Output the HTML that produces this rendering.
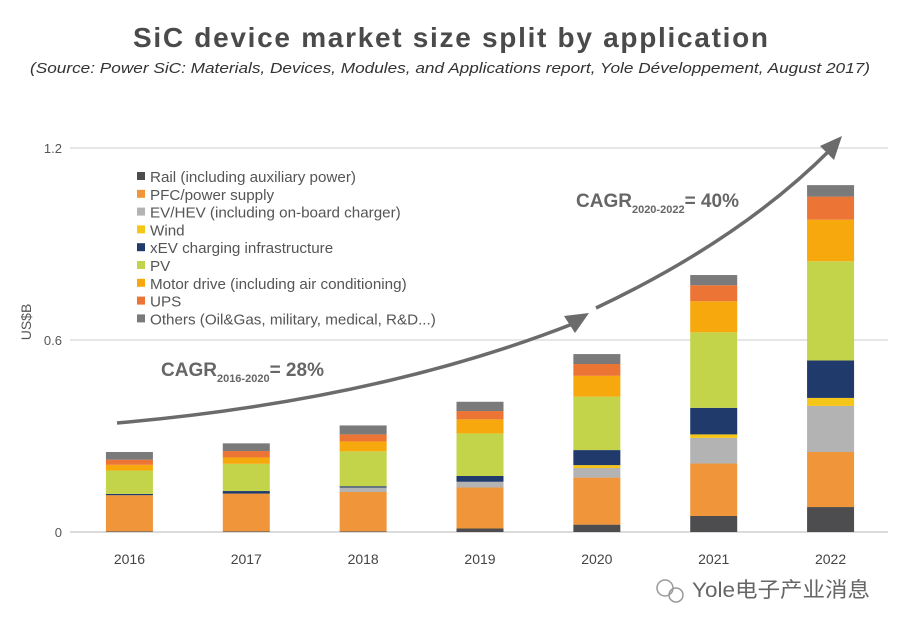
<!DOCTYPE html>
<html><head><meta charset="utf-8">
<style>
html,body{margin:0;padding:0;background:#fff;}
body{width:900px;height:630px;overflow:hidden;font-family:"Liberation Sans","Noto Sans CJK SC",sans-serif;}
</style></head>
<body>
<svg id="chart" width="900" height="630" viewBox="0 0 900 630" xmlns="http://www.w3.org/2000/svg">
<text x="133" y="47" textLength="635" lengthAdjust="spacing" font-family="Liberation Sans, sans-serif" font-weight="bold" font-size="28" fill="#4a4a4a">SiC device market size split by application</text>
<text x="30" y="73" textLength="840" lengthAdjust="spacingAndGlyphs" font-family="Liberation Sans, sans-serif" font-style="italic" font-size="15" fill="#333">(Source: Power SiC: Materials, Devices, Modules, and Applications report, Yole Développement, August 2017)</text>
<g id="grid"></g>
<g id="bars"></g>
<g id="axes"></g>
<text transform="translate(31,322) rotate(-90)" text-anchor="middle" font-size="14" fill="#555">US$B</text>
<g id="legend"></g>
<path d="M117,423 Q380,400 575,323" fill="none" stroke="#6b6b6b" stroke-width="3.5"/>
<polygon points="589,313 564,316 575,333" fill="#6b6b6b"/>
<path d="M596,308 Q740,240 830,150" fill="none" stroke="#6b6b6b" stroke-width="3.5"/>
<polygon points="842,136 820,146 834,160" fill="#6b6b6b"/>
<text x="161" y="376" font-weight="bold" font-size="19" fill="#666">CAGR<tspan font-size="11" dy="6">2016-2020</tspan><tspan dy="-6">= 28%</tspan></text>
<text x="576" y="207" font-weight="bold" font-size="19" fill="#666">CAGR<tspan font-size="11" dy="6">2020-2022</tspan><tspan dy="-6">= 40%</tspan></text>
<g>
<circle cx="665" cy="588" r="8" fill="none" stroke="#999" stroke-width="1.5"/>
<circle cx="676" cy="595" r="7" fill="none" stroke="#999" stroke-width="1.5"/>
<text x="692" y="597" textLength="178" lengthAdjust="spacingAndGlyphs" font-size="21" fill="#666" font-family="Liberation Sans, Noto Sans CJK SC, sans-serif">Yole电子产业消息</text>
</g>
</svg>
<script>
const years = ["2016","2017","2018","2019","2020","2021","2022"];
const seriesNames = ["Rail (including auxiliary power)","PFC/power supply","EV/HEV (including on-board charger)","Wind","xEV charging infrastructure","PV","Motor drive (including air conditioning)","UPS","Others (Oil&Gas, military, medical, R&D...)"];
const rail   = [0.002,0.002,0.002,0.011,0.023,0.050,0.078];
const pfc    = [0.113,0.118,0.123,0.128,0.147,0.164,0.172];
const evhev  = [0.000,0.000,0.014,0.018,0.030,0.080,0.144];
const wind   = [0.000,0.000,0.000,0.000,0.009,0.011,0.025];
const xev    = [0.004,0.008,0.004,0.018,0.047,0.083,0.117];
const pv     = [0.073,0.085,0.109,0.133,0.167,0.236,0.310];
const motor  = [0.018,0.020,0.031,0.044,0.065,0.097,0.130];
const ups    = [0.016,0.020,0.022,0.026,0.037,0.050,0.072];
const others = [0.024,0.024,0.028,0.029,0.031,0.032,0.036];
const yTicks = [0,0.6,1.2];
const yTickLabels = ["0","0.6","1.2"];
const colors = ["#4d4d4f","#f0953a","#b3b3b3","#f5c518","#1f3a6b","#c3d44a","#f6a80c","#ec7434","#7a7a7a"];
const series = [rail,pfc,evhev,wind,xev,pv,motor,ups,others];
const NS="http://www.w3.org/2000/svg";
const plotL=70, plotR=888, y0=532, yTop=148, yMax=1.2;
const yS = v => y0 - v/yMax*(y0-yTop);
const band = (plotR-plotL)/years.length;
const xC = i => plotL + band*(i+0.5) + 1;
const barW = 47;
function mk(tag,attrs,parent){const e=document.createElementNS(NS,tag);for(const k in attrs)e.setAttribute(k,attrs[k]);parent.appendChild(e);return e;}
const grid=document.getElementById('grid'), bars=document.getElementById('bars'), axes=document.getElementById('axes'), legend=document.getElementById('legend');
yTicks.forEach((t,i)=>{
  const l=mk('line',{x1:plotL,x2:plotR,y1:yS(t),y2:yS(t),stroke:i===0?'#cfcfcf':'#dedede','stroke-width':1.5},grid);
  
  
  const tx=mk('text',{x:62,y:yS(t)+5,'text-anchor':'end','font-size':13,fill:'#555'},axes);
  tx.textContent=yTickLabels[i];
  
  
});
years.forEach((yr,i)=>{
  let acc=0;
  series.forEach((s,k)=>{
    const v=s[i]; if(v<=0) return;
    const r=mk('rect',{x:xC(i)-barW/2,y:yS(acc+v),width:barW,height:yS(acc)-yS(acc+v),fill:colors[k]},bars);
    
    
    acc+=v;
  });
  const tx=mk('text',{x:xC(i),y:564,'text-anchor':'middle','font-size':14,fill:'#444'},axes);
  tx.textContent=yr;
  
  
});
seriesNames.forEach((n,k)=>{
  const y=182+k*17.8;
  const r=mk('rect',{x:137,y:y-10,width:8,height:8,fill:colors[k]},legend);
  
  
  const t=mk('text',{x:150,y:y,'font-size':15.2,fill:'#555'},legend);
  t.textContent=n;
  
  
});
</script>
</body></html>
